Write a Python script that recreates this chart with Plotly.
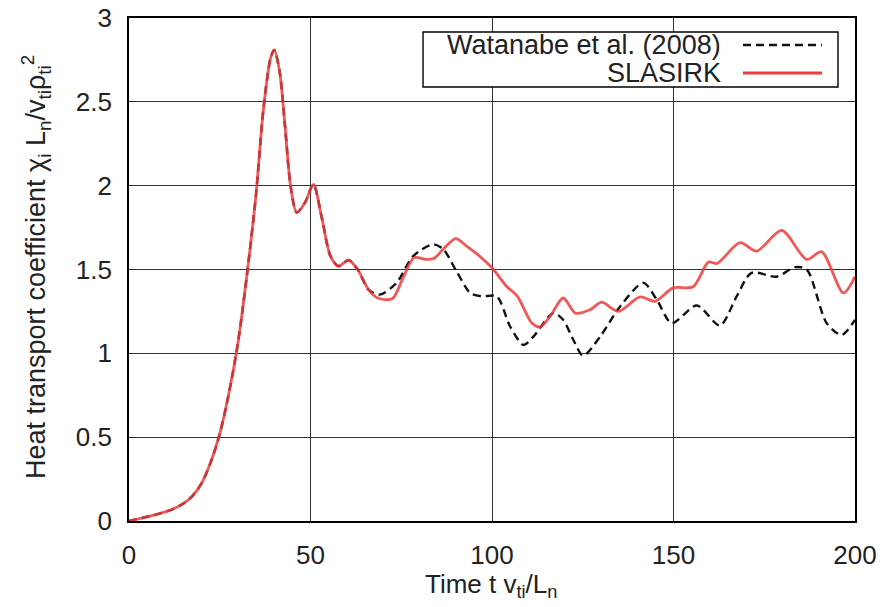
import plotly.graph_objects as go

# SLASIRK run
slasirk_t = [0, 3, 6, 9, 12, 15, 17.5, 20, 22.5, 25, 27.5, 30, 32.5, 35, 37, 39, 40,
             41.5, 43, 44.5, 46.2, 48.5, 50.8, 53, 55.5, 57.7, 60.5, 63, 66, 68.5,
             72.5, 75.5, 78.5, 82, 84, 86.5, 90, 93, 96, 100, 104, 107, 111, 113.3,
             116, 119.6, 123, 127, 130.2, 134.8, 140.8, 144.9, 149.9, 155.4, 159.6,
             162, 168.3, 172.9, 179.8, 186.7, 190.8, 196.8, 200]
slasirk_chi = [0, 0.015, 0.03, 0.048, 0.07, 0.105, 0.15, 0.225, 0.35, 0.52, 0.76, 1.06,
               1.47, 1.95, 2.45, 2.76, 2.81, 2.68, 2.35, 2.0, 1.84, 1.9, 2.008, 1.82,
               1.58, 1.52, 1.556, 1.50, 1.38, 1.33, 1.325, 1.45, 1.57, 1.56, 1.565,
               1.62, 1.684, 1.64, 1.59, 1.51, 1.40, 1.34, 1.18, 1.158, 1.22, 1.33,
               1.24, 1.26, 1.305, 1.25, 1.337, 1.31, 1.39, 1.397, 1.544, 1.536, 1.66,
               1.61, 1.733, 1.56, 1.606, 1.36, 1.457]

# Watanabe et al. (2008) reference run
watanabe_t = [0, 3, 6, 9, 12, 15, 17.5, 20, 22.5, 25, 27.5, 30, 32.5, 35, 37, 39, 40,
              41.5, 43, 44.5, 46.2, 48.5, 50.8, 53, 55.5, 57.7, 60.5, 63, 66, 69.1,
              73.7, 78.3, 83.8, 86.6, 90.2, 94, 97.1, 101.3, 105, 108.7, 111.4, 116.9,
              119.6, 122.4, 125.1, 129.8, 135.3, 141.7, 145.4, 149.5, 156.4, 162.8,
              167.4, 171.5, 178.4, 183.5, 186.7, 192.2, 196.3, 200]
watanabe_chi = [0, 0.015, 0.03, 0.048, 0.07, 0.105, 0.15, 0.225, 0.35, 0.52, 0.76, 1.06,
                1.47, 1.95, 2.45, 2.76, 2.81, 2.68, 2.35, 2.0, 1.84, 1.9, 2.008, 1.82,
                1.58, 1.52, 1.556, 1.50, 1.38, 1.35, 1.42, 1.58, 1.65, 1.62, 1.49,
                1.36, 1.34, 1.34, 1.16, 1.05, 1.10, 1.24, 1.20, 1.08, 0.986, 1.10,
                1.28, 1.42, 1.32, 1.18, 1.285, 1.166, 1.34, 1.48, 1.457, 1.514, 1.50,
                1.18, 1.11, 1.20]

series_names = ["Watanabe et al. (2008)", "SLASIRK"]
x_ticks = [0, 50, 100, 150, 200]
y_ticks = [0, 0.5, 1, 1.5, 2, 2.5, 3]
y_tick_text = ["0", "0.5", "1", "1.5", "2", "2.5", "3"]

RED = "#ef3b3b"
DASH = "8px,5px"
FONT = "Liberation Sans, Arial, sans-serif"
TEXT = "#222222"

fig = go.Figure()
fig.add_trace(go.Scatter(
    x=watanabe_t, y=watanabe_chi, mode="lines", name=series_names[0],
    line=dict(color="#111111", width=2.4, dash=DASH, shape="spline", smoothing=0.8),
    showlegend=False))
fig.add_trace(go.Scatter(
    x=slasirk_t, y=slasirk_chi, mode="lines", name=series_names[1], opacity=0.85,
    line=dict(color=RED, width=2.8, shape="spline", smoothing=0.8),
    showlegend=False))

axis_common = dict(
    showgrid=True, gridcolor="#333333", gridwidth=1.3,
    showline=True, linecolor="black", linewidth=1.6, mirror=True,
    zeroline=False, ticks="", ticklabelstandoff=10, automargin=False,
    tickfont=dict(family=FONT, size=26, color=TEXT),
)
fig.update_xaxes(range=[0, 200], tickvals=x_ticks, **axis_common)
fig.update_yaxes(range=[0, 3], tickvals=y_ticks, ticktext=y_tick_text, **axis_common)

# Key box in the upper right, text placed left of the line samples
box = dict(x0=0.405, x1=0.9766, y0=0.8628, y1=0.9722)
rows_y = [0.9463, 0.8907]
fig.add_shape(type="rect", xref="paper", yref="paper", **box,
              line=dict(color="black", width=1.4), fillcolor="white", layer="above")
fig.add_shape(type="line", xref="paper", yref="paper", x0=0.8457, x1=0.9545,
              y0=rows_y[0], y1=rows_y[0], layer="above",
              line=dict(color="#111111", width=2.4, dash=DASH))
fig.add_shape(type="line", xref="paper", yref="paper", x0=0.8457, x1=0.9545,
              y0=rows_y[1], y1=rows_y[1], layer="above",
              line=dict(color=RED, width=2.8))
for name, yy in zip(series_names, rows_y):
    fig.add_annotation(text=name, xref="paper", yref="paper", x=0.818, y=yy,
                       xanchor="right", yanchor="middle", showarrow=False,
                       font=dict(family=FONT, size=27, color=TEXT))

# Axis titles
fig.add_annotation(text="Time t v<sub>ti</sub>/L<sub>n</sub>", xref="paper", yref="paper",
                   x=0.498, y=-0.128, xanchor="center", yanchor="middle", showarrow=False,
                   font=dict(family=FONT, size=26, color=TEXT))
fig.add_annotation(text="Heat transport coefficient χ<sub>i</sub> L<sub>n</sub>/v<sub>ti</sub>ρ<sub>ti</sub><sup>2</sup>",
                   xref="paper", yref="paper", x=-0.128, y=0.505, textangle=-90,
                   xanchor="center", yanchor="middle", showarrow=False,
                   font=dict(family=FONT, size=27, color=TEXT))

fig.update_layout(
    width=893, height=607,
    margin=dict(l=129, r=38, t=18, b=86),
    paper_bgcolor="white", plot_bgcolor="white",
    font=dict(family=FONT, size=26, color=TEXT),
)

fig.write_html("out.html")
